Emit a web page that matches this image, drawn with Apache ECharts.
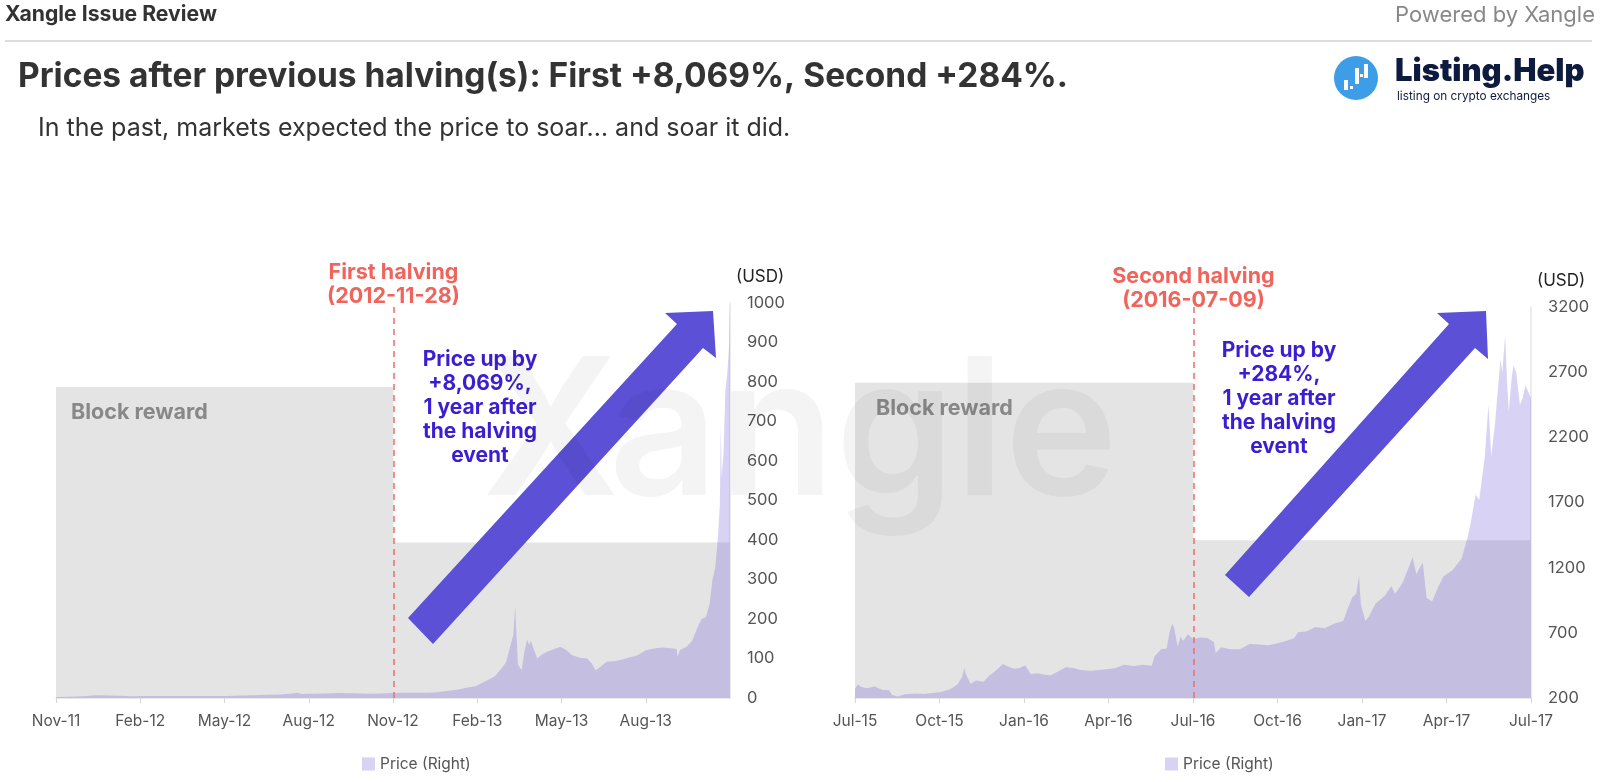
<!DOCTYPE html>
<html>
<head>
<meta charset="utf-8">
<title>Prices after previous halving(s)</title>
<script src="https://cdn.jsdelivr.net/npm/echarts@6/dist/echarts.min.js"></script>
<style>
html,body{margin:0;padding:0;background:#fff;}
#main{width:1600px;height:782px;}
</style>
</head>
<body>
<div id="main"></div>
<script>
var FONT = 'Inter, "Noto Sans", sans-serif';
var MONTHS = ['Jan','Feb','Mar','Apr','May','Jun','Jul','Aug','Sep','Oct','Nov','Dec'];

// first halving: 2011-11-28 .. 2013-11-28
var firstStart = '2011-11-28';
var firstHalving = '2012-11-28';
var firstDates = [
	'2011-11-28','2011-12-10','2011-12-20','2012-01-01','2012-01-08','2012-01-15','2012-01-25','2012-02-05','2012-02-18','2012-03-01',
	'2012-03-15','2012-04-01','2012-04-15','2012-05-01','2012-05-15','2012-06-01','2012-06-15','2012-07-01','2012-07-15','2012-07-28',
	'2012-08-10','2012-08-16','2012-08-20','2012-09-01','2012-09-15','2012-10-01','2012-10-15','2012-11-01','2012-11-15','2012-11-28',
	'2012-12-10','2012-12-25','2013-01-05','2013-01-15','2013-01-25','2013-02-05','2013-02-15','2013-02-25','2013-03-05','2013-03-10',
	'2013-03-18','2013-03-25','2013-03-30','2013-04-03','2013-04-07','2013-04-09','2013-04-10','2013-04-12','2013-04-16','2013-04-19',
	'2013-04-22','2013-04-24','2013-04-26','2013-04-29','2013-05-03','2013-05-08','2013-05-14','2013-05-20','2013-05-28','2013-06-03',
	'2013-06-10','2013-06-18','2013-06-26','2013-07-01','2013-07-05','2013-07-10','2013-07-17','2013-07-25','2013-08-01','2013-08-10',
	'2013-08-20','2013-08-28','2013-09-05','2013-09-15','2013-09-25','2013-10-01','2013-10-02','2013-10-05','2013-10-12','2013-10-18',
	'2013-10-23','2013-10-28','2013-11-02','2013-11-06','2013-11-09','2013-11-12','2013-11-15','2013-11-17','2013-11-18','2013-11-19',
	'2013-11-21','2013-11-23','2013-11-25','2013-11-27','2013-11-28'
];
var firstPrices = [
	2.5, 3, 3.6, 5.2, 6.8, 7, 6.3, 5.8, 4.7, 4.9,
	5, 4.9, 5, 5.1, 5.1, 5.3, 6.3, 6.7, 8.5, 9,
	11.5, 13, 10, 10.5, 11.5, 12.4, 11.8, 10.6, 11.6, 12.4,
	13, 13.4, 13.5, 14.5, 17.5, 21, 26, 30, 39, 45,
	55, 75, 90, 125, 160, 230, 180, 85, 70, 118,
	148, 135, 145, 125, 100, 110, 118, 123, 130, 122,
	108, 102, 100, 88, 70, 78, 92, 93, 96, 102,
	108, 120, 125, 128, 126, 124, 105, 122, 130, 145,
	175, 200, 205, 240, 300, 330, 410, 490, 690, 560,
	620, 780, 820, 890, 1000
];
var firstRewardDates = ['2011-11-28','2012-11-28','2013-11-28'];
var firstRewardValues = [50, 25, 25];

// second halving: 2015-07-09 .. 2017-07-09
var secondStart = '2015-07-09';
var secondHalving = '2016-07-09';
var secondDates = [
	'2015-07-09','2015-07-12','2015-07-16','2015-07-22','2015-07-30','2015-08-08','2015-08-15','2015-08-18','2015-08-24','2015-09-01',
	'2015-09-12','2015-09-22','2015-10-01','2015-10-10','2015-10-20','2015-10-28','2015-11-02','2015-11-04','2015-11-06','2015-11-11',
	'2015-11-17','2015-11-25','2015-12-01','2015-12-06','2015-12-10','2015-12-16','2015-12-22','2015-12-28','2016-01-03','2016-01-09',
	'2016-01-15','2016-01-22','2016-01-30','2016-02-06','2016-02-14','2016-02-22','2016-03-01','2016-03-10','2016-03-20','2016-04-01',
	'2016-04-15','2016-04-25','2016-05-05','2016-05-15','2016-05-25','2016-05-28','2016-06-04','2016-06-10','2016-06-13','2016-06-16',
	'2016-06-18','2016-06-22','2016-06-25','2016-06-28','2016-07-03','2016-07-09','2016-07-16','2016-07-24','2016-07-31','2016-08-02',
	'2016-08-08','2016-08-18','2016-08-28','2016-09-08','2016-09-18','2016-09-28','2016-10-08','2016-10-18','2016-10-26','2016-10-30',
	'2016-11-08','2016-11-18','2016-11-28','2016-12-08','2016-12-18','2016-12-23','2016-12-28','2017-01-01','2017-01-04','2017-01-06',
	'2017-01-11','2017-01-15','2017-01-22','2017-02-01','2017-02-08','2017-02-12','2017-02-20','2017-02-25','2017-03-03','2017-03-07',
	'2017-03-10','2017-03-14','2017-03-18','2017-03-24','2017-03-30','2017-04-05','2017-04-15','2017-04-25','2017-05-01','2017-05-05',
	'2017-05-10','2017-05-14','2017-05-20','2017-05-24','2017-05-27','2017-05-31','2017-06-06','2017-06-08','2017-06-11','2017-06-13',
	'2017-06-15','2017-06-18','2017-06-20','2017-06-23','2017-06-27','2017-06-30','2017-07-03','2017-07-06','2017-07-09'
];
var secondPrices = [
	270, 305, 285, 275, 288, 262, 260, 225, 212, 228,
	235, 230, 238, 246, 268, 305, 365, 430, 380, 310,
	335, 325, 370, 395, 420, 460, 440, 425, 430, 450,
	385, 390, 378, 375, 405, 435, 430, 412, 410, 416,
	428, 455, 445, 455, 448, 520, 575, 580, 700, 770,
	740, 595, 670, 640, 690, 650, 665, 660, 630, 545,
	590, 575, 575, 615, 610, 605, 620, 640, 660, 705,
	710, 745, 735, 770, 790, 890, 975, 1000, 1140, 920,
	790, 830, 925, 985, 1060, 1000, 1080, 1170, 1280, 1150,
	1190, 1240, 970, 940, 1040, 1130, 1180, 1270, 1420, 1550,
	1760, 1720, 2050, 2450, 2050, 2300, 2800, 2700, 2980, 2650,
	2400, 2650, 2750, 2700, 2450, 2500, 2600, 2550, 2500
];
var secondRewardDates = ['2015-07-09','2016-07-09','2017-07-09'];
var secondRewardValues = [25, 12.5, 12.5];

var SPAN_DAYS = 731;

function dayOffset(d, start){
	return (Date.parse(d) - Date.parse(start)) / 86400000;
}

function pairs(dates, values, start){
	var out = [];
	for (var i = 0; i < dates.length; i++) {
		out.push([dayOffset(dates[i], start), values[i]]);
	}
	return out;
}

function monthLabel(start){
	return function(v){
		var d = new Date(Date.parse(start) + v * 86400000);
		return MONTHS[d.getUTCMonth()] + '-' + String(d.getUTCFullYear()).slice(2);
	};
}

function xAxisFor(idx, start, showMax){
	return {
		type: 'value', gridIndex: idx, min: 0, max: SPAN_DAYS, interval: SPAN_DAYS / 8,
		splitLine: {show: false},
		axisLine: {onZero: false, lineStyle: {color: '#e2e2e2', width: 1.5}},
		axisTick: {show: true, length: 5, lineStyle: {color: '#d6d6d6'}},
		axisLabel: {color: '#555', fontSize: 15.5, fontFamily: FONT, margin: 15, showMaxLabel: showMax, formatter: monthLabel(start)}
	};
}

function priceAxis(idx, min, max, interval){
	return {
		type: 'value', gridIndex: idx, position: 'right', min: min, max: max, interval: interval,
		name: '(USD)', nameLocation: 'end', nameGap: 18,
		nameTextStyle: {color: '#222', fontSize: 17, fontFamily: FONT, align: 'left', padding: [0, 0, 0, 6]},
		splitLine: {show: false},
		axisLine: {show: true, onZero: false, lineStyle: {color: '#e6e6e6', width: 1.5}},
		axisTick: {show: false},
		axisLabel: {color: '#555', fontSize: 16.5, fontFamily: FONT, margin: 17, formatter: function(v){ return String(v); }}
	};
}

function rewardAxis(idx, max){
	return {type: 'value', gridIndex: idx, position: 'left', min: 0, max: max, show: false, splitLine: {show: false}};
}

function rewardSeries(idx, yIdx, dates, values, start){
	return {
		name: 'Block reward', type: 'line', step: 'end', xAxisIndex: idx, yAxisIndex: yIdx,
		symbol: 'none', silent: true, z: 1,
		lineStyle: {width: 0},
		itemStyle: {color: '#e4e4e4'},
		areaStyle: {color: '#e4e4e4', opacity: 1},
		data: pairs(dates, values, start)
	};
}

function priceSeries(idx, yIdx, dates, values, start, halving, halvingName){
	return {
		name: 'Price (Right)', type: 'line', xAxisIndex: idx, yAxisIndex: yIdx,
		symbol: 'none', z: 2,
		lineStyle: {width: 0},
		itemStyle: {color: 'rgba(105,86,213,0.26)'},
		areaStyle: {color: 'rgba(105,86,213,0.26)', opacity: 1},
		markLine: {
			silent: true, symbol: 'none',
			lineStyle: {color: '#ea6f68', type: [6, 5], width: 1.5},
			label: {
				show: true, position: 'end', distance: -6, formatter: '{b}',
				color: '#f0645c', fontSize: 21.5, fontWeight: 'bold', fontFamily: FONT, lineHeight: 24
			},
			data: [{name: halvingName, xAxis: dayOffset(halving, start)}]
		},
		data: pairs(dates, values, start)
	};
}

function arrow(points){
	return {type: 'polygon', z: 50, shape: {points: points}, style: {fill: '#5b50d6'}};
}

function txt(x, y, text, style, z){
	var s = {text: text, fontFamily: FONT};
	for (var k in style) s[k] = style[k];
	return {type: 'text', x: x, y: y, z: z || 60, style: s};
}

var myChart = echarts.init(document.getElementById('main'));

var annot = {fill: '#3b1ed2', fontSize: 21, fontWeight: 'bold', align: 'center', verticalAlign: 'middle', lineHeight: 24};
var reward = {fill: '#888', fontSize: 21.5, fontWeight: 'bold', verticalAlign: 'middle'};
var legendText = {color: '#555', fontSize: 15.5, fontFamily: FONT};

var option = {
	animation: false,
	backgroundColor: '#fff',
	grid: [
		{left: 56, top: 303, width: 674, height: 395},
		{left: 855, top: 307, width: 676, height: 391}
	],
	legend: [
		{left: 357, top: 751, icon: 'rect', itemWidth: 13, itemHeight: 13, itemGap: 6, textStyle: legendText, data: ['Price (Right)']},
		{left: 1160, top: 751, icon: 'rect', itemWidth: 13, itemHeight: 13, itemGap: 6, textStyle: legendText, data: ['Price (Right)']}
	],
	xAxis: [
		xAxisFor(0, firstStart, false),
		xAxisFor(1, secondStart, true)
	],
	yAxis: [
		priceAxis(0, 0, 1000, 100),
		rewardAxis(0, 63.5),
		priceAxis(1, 200, 3200, 500),
		rewardAxis(1, 31)
	],
	series: [
		rewardSeries(0, 1, firstRewardDates, firstRewardValues, firstStart),
		priceSeries(0, 0, firstDates, firstPrices, firstStart, firstHalving, 'First halving\n(2012-11-28)'),
		rewardSeries(1, 3, secondRewardDates, secondRewardValues, secondStart),
		priceSeries(1, 2, secondDates, secondPrices, secondStart, secondHalving, 'Second halving\n(2016-07-09)')
	],
	graphic: [
		// header
		txt(5, 15, 'Xangle Issue Review', {fill: '#333', fontSize: 21.2, fontWeight: 'bold', verticalAlign: 'middle'}),
		txt(1595, 15, 'Powered by Xangle', {fill: '#888', fontSize: 22, align: 'right', verticalAlign: 'middle'}),
		{type: 'line', shape: {x1: 5, y1: 41, x2: 1592, y2: 41}, style: {stroke: '#dcdcdc', lineWidth: 2}},
		txt(18, 77, 'Prices after previous halving(s): First +8,069%, Second +284%.', {fill: '#333', fontSize: 33.5, fontWeight: 'bold', verticalAlign: 'middle'}),
		txt(38, 128, 'In the past, markets expected the price to soar\u2026 and soar it did.', {fill: '#333', fontSize: 25, verticalAlign: 'middle'}),
		// logo
		{type: 'circle', shape: {cx: 1356, cy: 78, r: 22}, style: {fill: '#3d9de6'}},
		{type: 'rect', shape: {x: 1344, y: 80, width: 4, height: 10}, style: {fill: '#fff'}},
		{type: 'rect', shape: {x: 1350, y: 86, width: 3, height: 3}, style: {fill: '#fff'}},
		{type: 'rect', shape: {x: 1355, y: 68, width: 4, height: 16}, style: {fill: '#fff'}},
		{type: 'rect', shape: {x: 1360, y: 74, width: 3, height: 3}, style: {fill: '#fff'}},
		{type: 'rect', shape: {x: 1364, y: 64, width: 4, height: 14}, style: {fill: '#fff'}},
		txt(1395, 72, 'Listing.Help', {fill: '#0d1b3e', fontSize: 31, fontWeight: 900, verticalAlign: 'middle'}),
		txt(1397, 96, 'listing on crypto exchanges', {fill: '#0d1b3e', fontSize: 11.8, verticalAlign: 'middle'}),
		// chart annotations
		txt(71, 413, 'Block reward', reward),
		txt(876, 409, 'Block reward', reward),
		txt(480, 408, 'Price up by\n+8,069%,\n1 year after\nthe halving\nevent', annot),
		txt(1279, 399, 'Price up by\n+284%,\n1 year after\nthe halving\nevent', annot),
		arrow([[408, 618], [677, 324], [665, 313], [713, 311], [716, 358], [703, 348], [433, 644]]),
		arrow([[1225, 575], [1449, 324], [1437, 313], [1486, 311], [1488, 359], [1475, 348], [1249, 597]]),
		// watermark
		txt(482, 438, 'Xangle', {fill: 'rgba(0,0,0,0.045)', fontSize: 191, fontWeight: 600, verticalAlign: 'middle'}, 100)
	]
};
myChart.setOption(option);
</script>
</body>
</html>
